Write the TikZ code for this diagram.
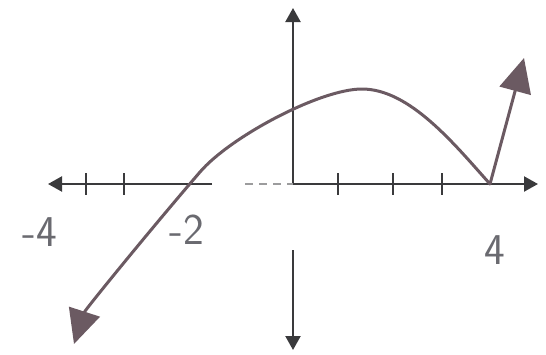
\documentclass[tikz,border=0pt]{standalone}
\usepackage{fontspec}
\setmainfont{DejaVu Sans}
\usetikzlibrary{arrows.meta}
\definecolor{axiscol}{HTML}{3A3A3C}
\definecolor{curvecol}{HTML}{6B5A62}
\definecolor{labelcol}{HTML}{6A6A70}
\tikzset{
  axis/.style={draw=axiscol, line width=2.2pt},
  axisarrow/.style={-{Triangle[length=14pt,width=15pt]}},
  tickmark/.style={draw=axiscol, line width=2pt},
  curve/.style={draw=curvecol, line width=3pt, line cap=round, line join=round},
  bigtip/.tip={Triangle[length=34pt,width=32pt]},
  lbl/.style={text=labelcol, font=\fontsize{44}{44}\selectfont\sffamily, inner sep=0pt}
}
\begin{document}
\begin{tikzpicture}[x=1pt,y=-1pt]
\useasboundingbox (0,0) rectangle (546,354);
% axis coordinates
\coordinate (O) at (293,184);
\coordinate (xl) at (48,184);
\coordinate (xlend) at (212,184);
\coordinate (xfaint) at (245,184);
\coordinate (xr) at (538,184);
\coordinate (yt) at (293,8);
\coordinate (yb) at (293,350);
\coordinate (ygap) at (293,250);
% axes
\draw[axis,axisarrow] (xlend) -- (xl);
\draw[axis,axisarrow] (O) -- (xr);
\draw[axis,axisarrow] (O) -- (yt);
\draw[axis,axisarrow] (ygap) -- (yb);
\draw[draw=axiscol!50, line width=1.5pt, dash pattern=on 8pt off 6pt] (xfaint) -- (O);
% ticks
\foreach \t in {86,124,338,393,442}
  \draw[tickmark] (\t,173) -- (\t,195);
% curve
\coordinate (cstart) at (74,344);
\coordinate (c1) at (200,172);
\coordinate (cpeak) at (362,89);
\coordinate (cmin) at (490,184);
\coordinate (ctip) at (524,58);
\draw[curve, bigtip-] (cstart) .. controls (85,310) and (150,230) .. (c1)
  .. controls (230,137) and (320,89) .. (cpeak)
  .. controls (410,89) and (455,145) .. (cmin);
\draw[curve, -bigtip] (cmin) -- (ctip);
% labels
\node[lbl] (m4) at (40,232) {-4};
\node[lbl] (m2) at (187,230) {-2};
\node[lbl] (p4) at (495,250) {4};
\end{tikzpicture}
\end{document}
